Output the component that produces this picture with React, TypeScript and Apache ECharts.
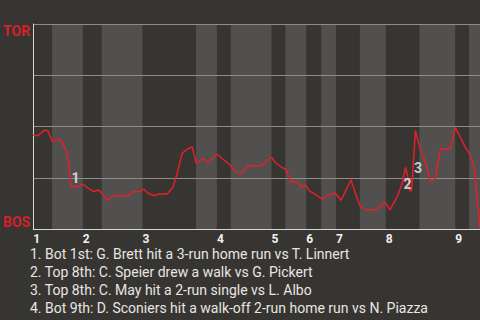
import React, { useEffect, useRef } from "react";
import * as echarts from "echarts";

// Win probability (1 = TOR, 0 = BOS) along game progress (0..450)
const progress = [0, 4.7, 10.7, 14.7, 19.3, 26.3, 29.7, 33.7, 36.3, 38, 44.7, 48, 51.3, 55.3, 60.7, 65.7, 69.7, 74.7, 80.7, 96.3, 99.7, 108, 111.3, 115, 121.7, 126.7, 135, 141, 145, 150, 155, 160, 164.3, 171, 175.7, 185, 190, 198.3, 205, 210, 216, 230, 240, 243.3, 250, 254.3, 259.3, 265, 270, 274.3, 278.3, 285, 291, 295.7, 304.3, 310, 320, 329.3, 335, 344.3, 354.3, 359.3, 366.7, 371.7, 375, 377.3, 379.3, 381, 385, 390, 395, 400, 405, 410, 420, 425, 430, 435, 440, 444.3, 450];
const winProb = [0.459, 0.455, 0.48, 0.48, 0.426, 0.439, 0.418, 0.377, 0.296, 0.206, 0.206, 0.215, 0.215, 0.199, 0.182, 0.19, 0.174, 0.141, 0.162, 0.162, 0.182, 0.182, 0.195, 0.177, 0.162, 0.171, 0.171, 0.206, 0.272, 0.369, 0.389, 0.401, 0.32, 0.343, 0.323, 0.366, 0.345, 0.312, 0.275, 0.272, 0.309, 0.309, 0.35, 0.328, 0.301, 0.293, 0.231, 0.231, 0.206, 0.215, 0.185, 0.166, 0.146, 0.162, 0.174, 0.14, 0.239, 0.109, 0.093, 0.093, 0.13, 0.093, 0.158, 0.223, 0.301, 0.255, 0.187, 0.187, 0.48, 0.385, 0.328, 0.231, 0.247, 0.39, 0.39, 0.494, 0.45, 0.401, 0.361, 0.296, 0.0];

const inningStarts = [0, 50, 110, 185, 240, 275, 305, 355, 425];
const inningLabels = ["1", "2", "3", "4", "5", "6", "7", "8", "9"];
const bottomHalfStart = [19, 69, 164, 199, 254, 290, 329, 389, 439];
const bottomHalfEnd = [50, 110, 185, 240, 275, 305, 355, 425, 450];

const eventLabels = ["1", "2", "3"];
const eventX = [42.5, 377, 387.5];
const eventY = [0.249, 0.22, 0.298];

const annotations = [
  "1. Bot 1st: G. Brett hit a 3-run home run vs T. Linnert",
  "2. Top 8th: C. Speier drew a walk vs G. Pickert",
  "3. Top 8th: C. May hit a 2-run single vs L. Albo",
  "4. Bot 9th: D. Sconiers hit a walk-off 2-run home run vs N. Piazza",
];

const FONT = "Roboto, 'Noto Sans', sans-serif";

export default function App() {
  const ref = useRef<HTMLDivElement>(null);
  useEffect(() => {
    if (!ref.current) return;
    const chart = echarts.init(ref.current, null, { renderer: "svg" });
    chart.setOption({
      animation: false,
      backgroundColor: "#373531",
      textStyle: { fontFamily: FONT },
      title: {
        text: annotations.join("\n"),
        left: 30,
        top: 245,
        padding: 0,
        textStyle: { color: "#e8e6e3", fontSize: 14, fontWeight: "normal", lineHeight: 18, fontFamily: FONT },
      },
      grid: { left: 30, right: 0, top: 24, bottom: 91, containLabel: false },
      xAxis: {
        type: "value",
        min: 0,
        max: 450,
        splitLine: { show: false },
        axisTick: { show: false },
        axisLine: { show: true, lineStyle: { color: "#d6d6d6", width: 1 } },
        axisLabel: {
          customValues: inningStarts,
          formatter: (v: number) => inningLabels[inningStarts.indexOf(v)] ?? "",
          align: "left",
          margin: 4,
          color: "#f0f0f0",
          fontWeight: "bold",
          fontSize: 12,
          fontFamily: FONT,
        },
      },
      yAxis: [
        {
          type: "value",
          min: 0,
          max: 1,
          interval: 0.25,
          position: "left",
          axisTick: { show: false },
          axisLine: { show: true, lineStyle: { color: "#d6d6d6", width: 1 } },
          splitLine: { show: true, lineStyle: { color: "#8e8c89", width: 1 } },
          axisLabel: {
            customValues: [1],
            formatter: () => "TOR",
            verticalAlign: "top",
            margin: 3,
            color: "#d8202a",
            fontWeight: "bold",
            fontSize: 14,
            fontFamily: FONT,
          },
        },
        {
          type: "value",
          min: 0,
          max: 1,
          position: "left",
          axisTick: { show: false },
          axisLine: { show: false },
          splitLine: { show: false },
          axisLabel: {
            customValues: [0],
            formatter: () => "BOS",
            verticalAlign: "bottom",
            margin: 3,
            color: "#d8202a",
            fontWeight: "bold",
            fontSize: 14,
            fontFamily: FONT,
          },
        },
      ],
      series: [
        {
          type: "custom",
          silent: true,
          z: -1,
          data: bottomHalfStart.map((s, i) => [s, bottomHalfEnd[i]]),
          renderItem: (params: any, api: any) => {
            const p0 = api.coord([api.value(0), 1]);
            const p1 = api.coord([api.value(1), 0]);
            return {
              type: "rect",
              shape: { x: p0[0], y: p0[1], width: p1[0] - p0[0], height: p1[1] - p0[1] },
              style: { fill: "#51504e" },
            };
          },
        },
        {
          type: "line",
          data: progress.map((x, i) => [x, winProb[i]]),
          symbol: "none",
          lineStyle: { color: "#e3202a", width: 1.5 },
          z: 3,
        },
        {
          type: "scatter",
          data: eventX.map((x, i) => ({ value: [x, eventY[i]], name: eventLabels[i] })),
          symbolSize: 0,
          silent: true,
          z: 4,
          label: {
            show: true,
            position: "inside",
            formatter: (p: any) => p.name,
            color: "#f2f2f2",
            fontWeight: "bold",
            fontSize: 14,
            fontFamily: FONT,
          },
        },
      ],
    });
    return () => chart.dispose();
  }, []);
  return (
    <div
      ref={ref}
      style={{ position: "absolute", left: 0, top: 0, width: 480, height: 320 }}
    />
  );
}
